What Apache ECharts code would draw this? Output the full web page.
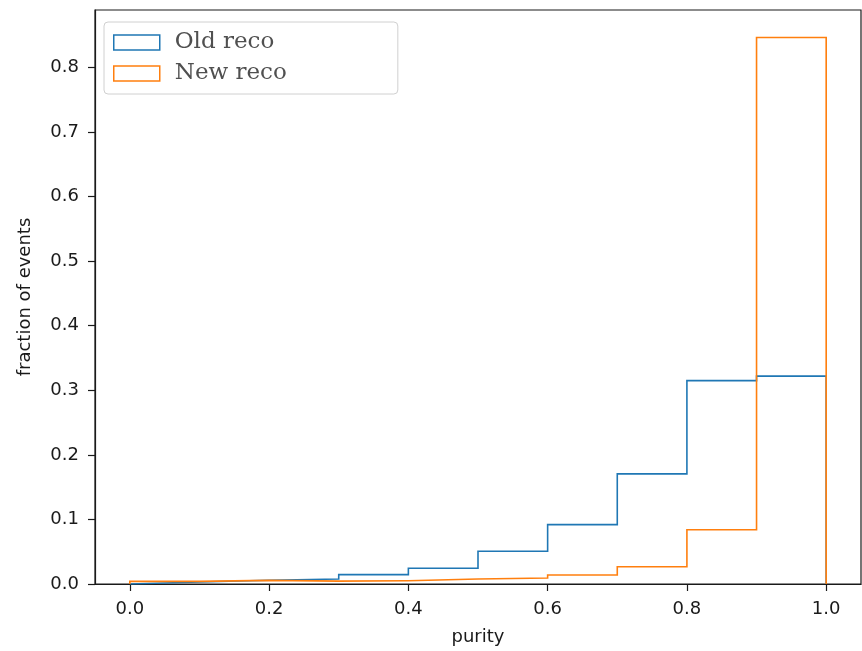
<!DOCTYPE html>
<html>
<head>
<meta charset="utf-8">
<script src="https://cdn.jsdelivr.net/npm/echarts@6/dist/echarts.min.js"></script>
<style>
html,body{margin:0;padding:0;background:#fff;}
#chart{width:862px;height:651px;}
</style>
</head>
<body>
<div id="chart"></div>
<script>
const binEdges = [0.0, 0.1, 0.2, 0.3, 0.4, 0.5, 0.6, 0.7, 0.8, 0.9, 1.0];
const oldReco = [0.003, 0.0058, 0.0077, 0.0145, 0.0245, 0.0507, 0.092, 0.1705, 0.315, 0.322];
const newReco = [0.004, 0.0056, 0.0045, 0.005, 0.0078, 0.0093, 0.014, 0.0268, 0.084, 0.8465];
const xTicks = [0.0, 0.2, 0.4, 0.6, 0.8, 1.0];
const yTicks = [0.0, 0.1, 0.2, 0.3, 0.4, 0.5, 0.6, 0.7, 0.8];
const seriesNames = ['Old reco', 'New reco'];
const colors = ['#1f77b4', '#ff7f0e'];

function stepOutline(edges, vals) {
  const pts = [[edges[0], 0]];
  for (let i = 0; i < vals.length; i++) {
    pts.push([edges[i], vals[i]]);
    pts.push([edges[i + 1], vals[i]]);
  }
  pts.push([edges[edges.length - 1], 0]);
  return pts;
}

const chart = echarts.init(document.getElementById('chart'), null, {renderer: 'canvas'});
const tickFont = {fontFamily: 'DejaVu Sans', fontSize: 18, color: '#1a1a1a'};
chart.setOption({
  animation: false,
  backgroundColor: '#fff',
  grid: {left: 95, top: 10, right: 1, bottom: 67, show: true, borderColor: '#1a1a1a', borderWidth: 1.2, backgroundColor: 'transparent'},
  legend: {
    left: 104, top: 22,
    orient: 'vertical',
    padding: [9, 111, 9, 9],
    itemGap: 8,
    itemWidth: 46, itemHeight: 15,
    icon: 'rect',
    backgroundColor: 'rgba(255,255,255,0.85)',
    borderColor: '#d0d0d0', borderWidth: 1, borderRadius: 4,
    textStyle: {fontFamily: 'DejaVu Serif', fontSize: 23, color: '#505050', padding: [0, 0, 0, 10]},
    data: seriesNames.map((n, i) => ({name: n, itemStyle: {color: 'rgba(255,255,255,0)', borderColor: colors[i], borderWidth: 1.5}}))
  },
  xAxis: {
    type: 'value', min: -0.05, max: 1.05,
    name: 'purity', nameLocation: 'middle', nameGap: 44,
    nameTextStyle: {fontFamily: 'DejaVu Sans', fontSize: 18, color: '#1a1a1a'},
    axisLine: {show: true, onZero: false, lineStyle: {color: '#1a1a1a', width: 1.2}},
    axisTick: {show: true, length: 7, lineStyle: {color: '#1a1a1a', width: 1.2}, customValues: xTicks},
    axisLabel: Object.assign({margin: 16, customValues: xTicks, formatter: v => v.toFixed(1)}, tickFont),
    splitLine: {show: false}
  },
  yAxis: {
    type: 'value', min: 0, max: 0.889,
    name: 'fraction of events', nameLocation: 'middle', nameGap: 61,
    nameTextStyle: {fontFamily: 'DejaVu Sans', fontSize: 18, color: '#1a1a1a'},
    axisLine: {show: true, onZero: false, lineStyle: {color: '#1a1a1a', width: 1.2}},
    axisTick: {show: true, length: 7, lineStyle: {color: '#1a1a1a', width: 1.2}, customValues: yTicks},
    axisLabel: Object.assign({margin: 16, customValues: yTicks, formatter: v => v.toFixed(1)}, tickFont),
    splitLine: {show: false}
  },
  series: [
    {name: seriesNames[0], type: 'line', data: stepOutline(binEdges, oldReco), showSymbol: false, symbol: 'none',
     lineStyle: {color: colors[0], width: 1.6, join: 'miter'}, itemStyle: {color: colors[0]}},
    {name: seriesNames[1], type: 'line', data: stepOutline(binEdges, newReco), showSymbol: false, symbol: 'none',
     lineStyle: {color: colors[1], width: 1.6, join: 'miter'}, itemStyle: {color: colors[1]}}
  ]
});
</script>
</body>
</html>
